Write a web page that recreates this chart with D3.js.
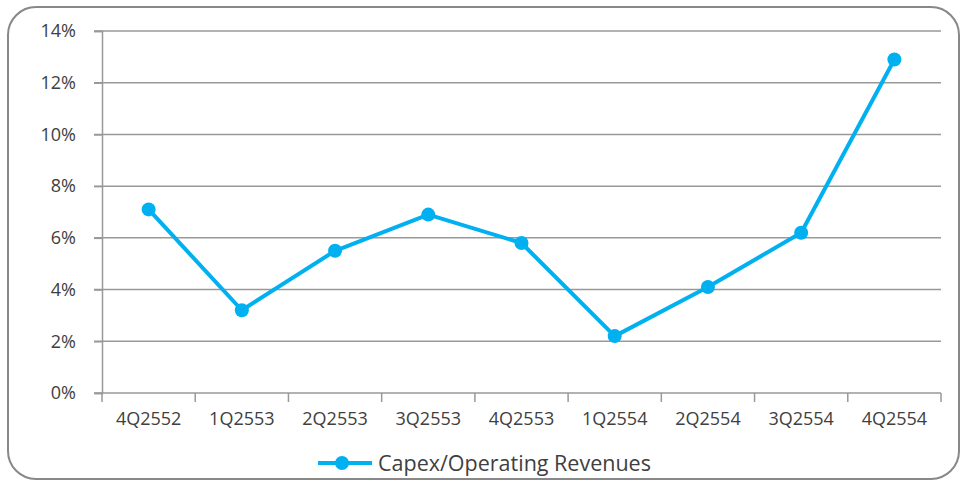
<!DOCTYPE html>
<html>
<head>
<meta charset="utf-8">
<script src="https://cdn.jsdelivr.net/npm/d3@7"></script>
<style>
  body { margin: 0; background: #fff; }
  text { font-family: "Open Sans", sans-serif; fill: #404040; }
</style>
</head>
<body>
<script>
const width = 962;
const height = 483;

const quarters = ["4Q2552", "1Q2553", "2Q2553", "3Q2553", "4Q2553", "1Q2554", "2Q2554", "3Q2554", "4Q2554"];
const capexRatio = [7.1, 3.2, 5.5, 6.9, 5.8, 2.2, 4.1, 6.2, 12.9];
const yTicks = [0, 2, 4, 6, 8, 10, 12, 14];
const seriesName = "Capex/Operating Revenues";

const plot = { left: 102, right: 941, top: 31, bottom: 393 };
const blue = "#00B0F0";
const grid = "#999";

const svg = d3.select("body")
  .append("svg")
  .attr("width", width)
  .attr("height", height);

// rounded frame
svg.append("rect")
  .attr("x", 8).attr("y", 7)
  .attr("width", 951).attr("height", 472)
  .attr("rx", 28).attr("ry", 28)
  .attr("fill", "#fff")
  .attr("stroke", "#888")
  .attr("stroke-width", 2);

const x = d3.scaleBand().domain(quarters).range([plot.left, plot.right]);
const y = d3.scaleLinear().domain([0, 14]).range([plot.bottom, plot.top]);

// gridlines
svg.append("g")
  .selectAll("line")
  .data(yTicks)
  .join("line")
  .attr("x1", plot.left - 8)
  .attr("x2", plot.right)
  .attr("y1", d => y(d))
  .attr("y2", d => y(d))
  .attr("stroke", grid)
  .attr("stroke-width", 1.5);

// y axis
const yAxis = svg.append("g")
  .attr("transform", `translate(${plot.left},0)`)
  .call(d3.axisLeft(y).tickValues(yTicks).tickFormat(d => d + "%").tickSize(8).tickPadding(18));
yAxis.select(".domain").attr("stroke", grid).attr("stroke-width", 1.5);
yAxis.selectAll(".tick line").attr("stroke", grid).attr("stroke-width", 1.5);
yAxis.selectAll("text").attr("font-size", 18).attr("font-family", "Open Sans").attr("fill", "#404040");

// x axis
const xAxis = svg.append("g")
  .attr("transform", `translate(0,${plot.bottom})`)
  .call(d3.axisBottom(x).tickSize(0).tickPadding(19));
xAxis.select(".domain").remove();
xAxis.selectAll("text").attr("font-size", 18).attr("font-family", "Open Sans").attr("fill", "#404040");

const bounds = quarters.map(q => x(q)).concat([plot.right]);
svg.append("g")
  .selectAll("line")
  .data(bounds)
  .join("line")
  .attr("x1", d => d).attr("x2", d => d)
  .attr("y1", plot.bottom).attr("y2", plot.bottom + 9)
  .attr("stroke", grid)
  .attr("stroke-width", 1.5);

// series
const cx = (d, i) => x(quarters[i]) + x.bandwidth() / 2;
const line = d3.line().x(cx).y(d => y(d));

svg.append("path")
  .datum(capexRatio)
  .attr("d", line)
  .attr("fill", "none")
  .attr("stroke", blue)
  .attr("stroke-width", 4)
  .attr("stroke-linejoin", "round");

svg.append("g")
  .selectAll("circle")
  .data(capexRatio)
  .join("circle")
  .attr("cx", cx)
  .attr("cy", d => y(d))
  .attr("r", 7)
  .attr("fill", blue);

// legend
const legend = svg.append("g").attr("transform", "translate(318,463)");
legend.append("line")
  .attr("x1", 0).attr("x2", 54)
  .attr("stroke", blue).attr("stroke-width", 4);
legend.append("circle").attr("cx", 24).attr("r", 7).attr("fill", blue);
legend.append("text")
  .attr("x", 60).attr("y", 0)
  .attr("dy", "0.35em")
  .attr("font-size", 21.5)
  .text(seriesName);
</script>
</body>
</html>
